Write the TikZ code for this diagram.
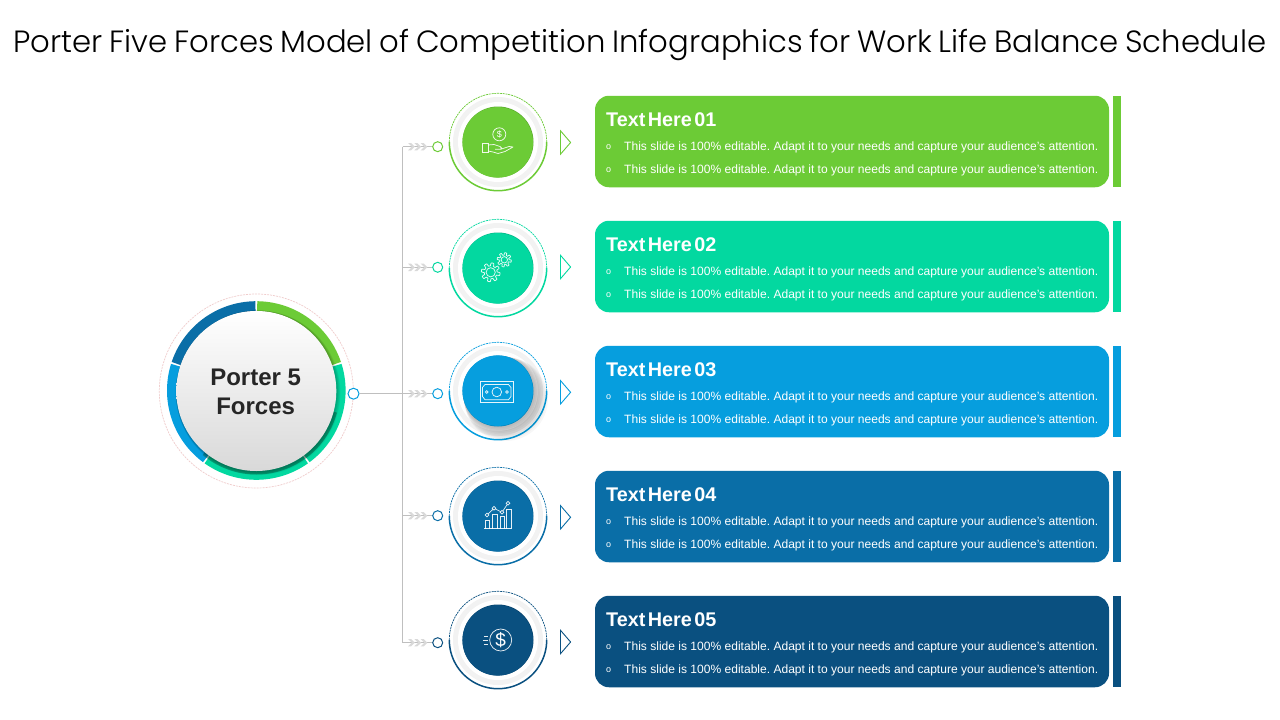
\documentclass[tikz,border=0pt]{standalone}
\usepackage{fontspec}
\setmainfont{Liberation Sans}
\newfontfamily\titlefont[WordSpace=0.8]{Poppins Light}
\newfontfamily\headfont[WordSpace=0.45]{Liberation Sans Bold}
\definecolor{c1}{HTML}{6CCB36}
\definecolor{c2}{HTML}{03D8A0}
\definecolor{c3}{HTML}{069EDE}
\definecolor{c4}{HTML}{0A6EA7}
\definecolor{c5}{HTML}{0A5080}
\tikzset{
  rnd/.style={circle,inner sep=0pt,minimum size=#1},
  card/.style={rounded corners=14pt,minimum width=514pt,minimum height=91.5pt,inner sep=0pt},
  sidebar/.style={minimum width=8pt,minimum height=91.5pt,inner sep=0pt},
  heading/.style={anchor=base west,inner sep=0pt,text=white,font=\fontsize{19.8}{20}\headfont},
  bodytext/.style={anchor=base west,inner sep=0pt,text=white,font=\fontsize{12.05}{14}\selectfont},
  bulletmark/.style={anchor=base,inner sep=0pt,text=white,font=\fontsize{9}{10}\selectfont},
  link/.style={draw=black!25,line width=0.9pt},
  icon/.style={draw=white,line width=0.75pt,opacity=0.9},
  dotnode/.style={rnd=10pt,fill=white,draw=#1,line width=1pt},
  tri/.style={line width=0.9pt,line join=miter},
}
\begin{document}
\frenchspacing
\begin{tikzpicture}[x=1pt,y=-1pt]
\useasboundingbox (0,0) rectangle (1280,720);
\fill[white] (0,0) rectangle (1280,720);
\node[anchor=base,inner sep=0pt,text=black] (title) at (640,52)
  {\titlefont\fontsize{30.7}{36}\selectfont Porter Five Forces Model of Competition Infographics for Work Life Balance Schedule};

% hub
\coordinate (hubc) at (256.3,391);
\draw[draw=black!30!red!20!white,line width=0.7pt,dash pattern=on 2pt off 1pt] (hubc) circle[radius=97];
\foreach \s/\col in {-90/c1,-18/c2,54/c2,126/c3,198/c4}{
  \draw[draw=\col,line width=10pt,line cap=butt] plot[domain=\s+0.6:\s+71.4,samples=40]
    ({256.3+84.3*cos(\x)},{390.5+84.3*sin(\x)});
}
\draw[draw=black!60!c2,opacity=0.45,line width=4pt] plot[domain=15:130,samples=50]
    ({256.3+81.5*cos(\x)},{391+81.5*sin(\x)});
\foreach \k in {1,...,6}{
  \fill[black,opacity=0.04] (256.3+0.3*\k,391+0.3*\k) circle[radius=80.5+0.3*\k];
}
\node[rnd=160pt,top color=white,bottom color=black!15] (hub) at (256.3,391) {};
\node[align=center,inner sep=0pt,text=black!85,font=\fontsize{24}{29}\selectfont\bfseries] (hublabel) at (255.6,392) {Porter 5\\Forces};
\node[dotnode=c3,minimum size=11pt] (hubdot) at (353.5,393.7) {};

% rows
\coordinate (trunk1) at (402.5,146.7);
\coordinate (trunk2) at (402.5,267.3);
\coordinate (trunk3) at (402.5,393.7);
\coordinate (trunk4) at (402.5,515.7);
\coordinate (trunk5) at (402.5,642.7);
\draw[link] (trunk1) -- (trunk5);
\node[dotnode=c3] (dot3) at (437.7,393.7) {};
\draw[link] (hubdot) -- (dot3);

\foreach \n/\cy/\ty/\dy/\try/\col/\sh in {
  1/142/96/146.7/142.5/c1/0,
  2/268/221/267.3/267/c2/0,
  3/391/346/393.7/392.3/c3/1,
  4/516/471/515.7/517.3/c4/0,
  5/640/596/642.7/642/c5/0}{
  % outer ring
  \draw[draw=\col,line width=0.7pt,dash pattern=on 2pt off 0.8pt] plot[domain=180:360,samples=50]
    ({498+48.7*cos(\x)},{\cy+48.7*sin(\x)});
  \draw[draw=\col,line width=1.5pt] plot[domain=0:180,samples=50]
    ({498+48.7*cos(\x)},{\cy+48.7*sin(\x)});
  \node[rnd=90pt,fill=black!5] (halo\n) at (498,\cy) {};
  \node[rnd=80pt,fill=white] (ring\n) at (498,\cy) {};
  \ifnum\sh=1
    \foreach \k in {1,...,9}{
      \fill[black,opacity=0.03] (498+0.9*\k,\cy+0.9*\k) circle[radius=35.5+0.7*\k];
    }
  \fi
  \fill[\col!85!black] (498,\cy) circle[radius=35.5];
  \node[rnd=70.5pt,fill=\col] (disc\n) at ({498-0.3},{\cy+(0.5-\sh)*0.7}) {};
  % connectors
  \ifnum\n=3\else\node[dotnode=\col] (dot\n) at (437.7,\dy) {};\fi
  \ifnum\n=3\else\draw[link] (trunk\n) -- (dot\n);\fi
  \foreach \hx in {408,414.3,420.6}{
    \fill[black!15] (\hx,\dy-3.7) -- (\hx+3,\dy-3.7) -- (\hx+6.8,\dy) -- (\hx+3,\dy+3.7) -- (\hx,\dy+3.7) -- (\hx+3.8,\dy) -- cycle;
  }
  % triangle
  \draw[tri,draw=\col,fill=white] (560.5,\try-11.7) -- (570.6,\try) -- (560.5,\try+11.7) -- cycle;
  % card
  \node[card,fill=\col] (card\n) at (852,\ty+45.5) {};
  \node[sidebar,fill=\col] (bar\n) at (1117,\ty+45.5) {};
  \node[heading] (head\n) at (606,\ty+30) {Text Here 0\n};
  \node[bulletmark] (bulA\n) at (608.5,\ty+53.5) {o};
  \node[bulletmark] (bulB\n) at (608.5,\ty+76) {o};
  \node[bodytext] (lineA\n) at (624,\ty+54.8) {This slide is 100\% editable. Adapt it to your needs and capture your audience's attention.};
  \node[bodytext] (lineB\n) at (624,\ty+77) {This slide is 100\% editable. Adapt it to your needs and capture your audience's attention.};
}

% icon 1: hand and coin
\draw[icon] (499.3,134.3) circle[radius=6.5];
\node[text=white,inner sep=0pt,font=\fontsize{9}{10}\selectfont] (coin1) at (499.3,134.3) {\$};
\draw[icon] (482.7,143.3) rectangle (488,152.3);
\draw[icon,line join=round] (488,145) -- (494,144.5) -- (500,146.5) -- (501.5,148) -- (500.5,149.3) -- (495,149.3)
  (500.5,149.3) -- (509,146.5) -- (513,147) -- (505,151.5) -- (498,153.5) -- (493,152) -- (488,151);

% icon 2: gears
\draw[icon] plot[domain=0:360,samples=145,smooth] ({490.7+(7.9+1.5*max(-1,min(1,2.5*sin(8*\x))))*cos(\x)},{272.3+(7.9+1.5*max(-1,min(1,2.5*sin(8*\x))))*sin(\x)}) -- cycle;
\draw[icon] (490.7,272.3) circle[radius=4.6];
\draw[icon] plot[domain=0:360,samples=145,smooth] ({504.3+(5.9+1.2*max(-1,min(1,2.5*sin(8*\x))))*cos(\x)},{259.8+(5.9+1.2*max(-1,min(1,2.5*sin(8*\x))))*sin(\x)}) -- cycle;
\draw[icon] (504.3,259.8) circle[radius=3.2];

% icon 3: banknote
\draw[icon] (480,381.7) rectangle (513.3,402.3);
\draw[icon] (485,384.5) -- (508.5,384.5) -- (511,387.5) -- (511,396.5) -- (508.5,399.7) -- (485,399.7) -- (482.5,396.5) -- (482.5,387.5) -- cycle;
\draw[icon] (496.8,392) circle[radius=4.8];
\draw[icon] (486.7,392) circle[radius=1.4];
\draw[icon] (507,392) circle[radius=1.4];

% icon 4: chart
\draw[icon] (484,528.6) -- (511,528.6);
\draw[icon] (485,528.6) |- (489,520) -- (489,528.6);
\draw[icon] (492.5,528.6) |- (497,514) -- (497,528.6);
\draw[icon] (500,528.6) |- (504,516.7) -- (504,528.6);
\draw[icon] (506.5,528.6) |- (511,509.3) -- (511,528.6);
\draw[icon] (487,515) -- (494,508.3) -- (502,512.3) -- (508,503.3);
\foreach \px/\py in {487/515,494/508.3,502/512.3,508/503.3}{
  \fill[c4] (\px,\py) circle[radius=1.9];
  \draw[icon] (\px,\py) circle[radius=1.9];
}

% icon 5: dollar
\draw[icon] (500.7,640) circle[radius=11];
\node[text=white,inner sep=0pt,font=\fontsize{19}{20}\selectfont] (coin5) at (500.7,640) {\$};
\draw[icon] (484,636) -- (488.3,636) (482.5,640) -- (488.3,640) (484,644) -- (488.3,644);
\end{tikzpicture}
\end{document}
